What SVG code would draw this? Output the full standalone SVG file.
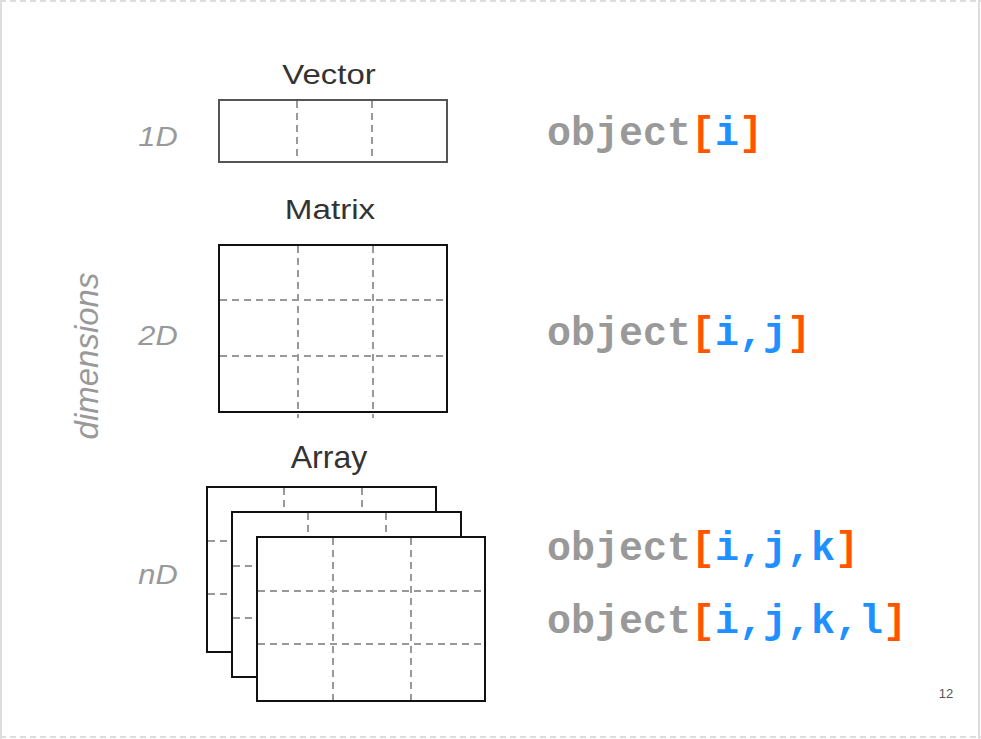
<svg xmlns="http://www.w3.org/2000/svg" width="981" height="739" viewBox="0 0 981 739">
<style>
.box{fill:#fff;stroke:#111;stroke-width:2}
.vbox{fill:#fff;stroke:#555;stroke-width:2}
.grid{stroke:#999;stroke-width:2;stroke-dasharray:7,5;fill:none}
.title{font-family:"Liberation Sans",Arial,sans-serif;font-size:27px;fill:#333;text-anchor:middle}
.dim{font-family:"Liberation Sans",Arial,sans-serif;font-size:28px;font-style:italic;fill:#999;text-anchor:middle}
.code{font-family:"Liberation Mono","Courier New",monospace;font-size:40px;font-weight:bold;fill:#999}
.br{fill:#ff5500}
.ix{fill:#1e90ff}
</style>
<rect width="981" height="739" fill="#fff"/>
<g id="page-border" stroke="#ddd" stroke-width="2" fill="none">
<line x1="0" y1="1" x2="981" y2="1" stroke-dasharray="6,4"/>
<line x1="0" y1="737" x2="981" y2="737" stroke-dasharray="6,4"/>
<line x1="1" y1="0" x2="1" y2="739"/>
<line x1="979" y1="0" x2="979" y2="739"/>
</g>
<text class="dim" transform="translate(98,356) rotate(-90)" style="font-size:33px">dimensions</text>
<g id="vector">
<text class="title" transform="translate(329,84) scale(1.22,1)">Vector</text>
<text class="dim" transform="translate(158,146) scale(1.1,1)">1D</text>
<rect class="vbox" x="219" y="100" width="228" height="62"/>
<path class="grid" d="M297,101V161M372,101V161"/>
</g>
<g id="matrix">
<text class="title" transform="translate(330,219) scale(1.23,1)">Matrix</text>
<text class="dim" transform="translate(158,345) scale(1.1,1)">2D</text>
<rect class="box" x="219" y="245" width="228" height="167"/>
<path class="grid" d="M298,246V418M373,246V418M220,300H446M220,356H446"/>
</g>
<g id="array">
<text class="title" x="329" y="468" style="font-size:32px">Array</text>
<text class="dim" transform="translate(158,584) scale(1.1,1)">nD</text>
<rect class="box" x="207" y="487" width="229" height="165"/>
<path class="grid" d="M284,488V512M362,488V512M208,541H232M208,594H232"/>
<rect class="box" x="232" y="512" width="229" height="165"/>
<path class="grid" d="M308,513V537M386,513V537M233,566H257M233,618H257"/>
<rect class="box" x="257" y="537" width="228" height="164"/>
<path class="grid" d="M333,538V700M411,538V700M258,591H484M258,644H484"/>
</g>
<g id="code">
<text class="code" x="547" y="145">object<tspan class="br">[</tspan><tspan class="ix">i</tspan><tspan class="br">]</tspan></text>
<text class="code" x="547" y="345">object<tspan class="br">[</tspan><tspan class="ix">i,j</tspan><tspan class="br">]</tspan></text>
<text class="code" x="547" y="560">object<tspan class="br">[</tspan><tspan class="ix">i,j,k</tspan><tspan class="br">]</tspan></text>
<text class="code" x="547" y="633">object<tspan class="br">[</tspan><tspan class="ix">i,j,k,l</tspan><tspan class="br">]</tspan></text>
</g>
<text x="946" y="698" text-anchor="middle" style="font-family:'Liberation Sans',Arial,sans-serif;font-size:13px;fill:#555">12</text>
</svg>
